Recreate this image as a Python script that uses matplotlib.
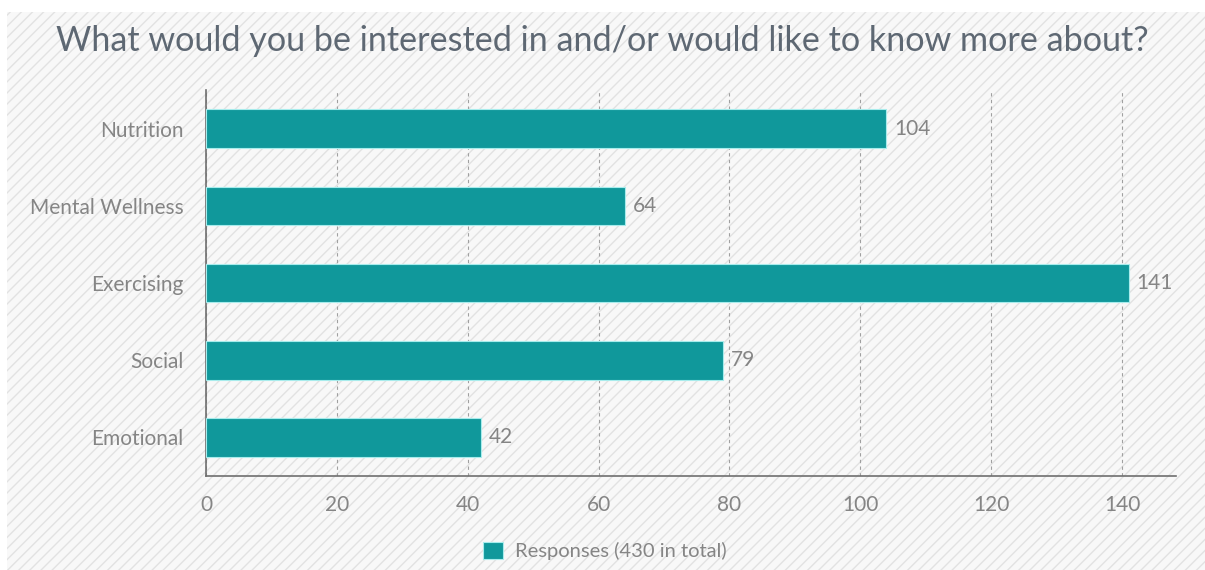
import matplotlib
matplotlib.use("Agg")
import matplotlib.pyplot as plt
from matplotlib.patches import Rectangle

# survey answers, top to bottom
topics = ["Nutrition", "Mental Wellness", "Exercising", "Social", "Emotional"]
responses = [104, 64, 141, 79, 42]
x_ticks = [0, 20, 40, 60, 80, 100, 120, 140]
legend_label = "Responses (430 in total)"
title = "What would you be interested in and/or would like to know more about?"

plt.rcParams["font.family"] = ["Lato", "DejaVu Sans"]
plt.rcParams["hatch.linewidth"] = 1.0

fig = plt.figure(figsize=(12.05, 5.7), dpi=100)
fig.patch.set_facecolor("white")

# faint striped backdrop
bg = Rectangle((7 / 1205, 0), 1, 1 - 12 / 570, transform=fig.transFigure,
               facecolor="#f8f8f8", edgecolor="#e2e2e2", hatch="///", linewidth=0,
               zorder=-10)
fig.patches.append(bg)

ax = fig.add_axes([206 / 1205, 1 - 476 / 570, (1176 - 206) / 1205, (476 - 90) / 570])
ax.set_facecolor("none")

ypos = list(range(len(topics)))
bars = ax.barh(ypos, responses, height=0.5, color="#10989b",
               edgecolor="#a8ecec", linewidth=0.8, zorder=3)
for y, v in zip(ypos, responses):
    ax.text(v + 1.2, y, str(v), va="center", ha="left", fontsize=15,
            color="#858585", zorder=4)

ax.set_ylim(len(topics) - 0.5, -0.5)
ax.set_xlim(0, 148.25)
ax.set_yticks(ypos)
ax.set_yticklabels(topics)
ax.set_xticks(x_ticks)

ax.tick_params(axis="both", length=0, labelsize=15, labelcolor="#858585")
ax.tick_params(axis="x", pad=14)
ax.tick_params(axis="y", pad=16)

for side in ["top", "right"]:
    ax.spines[side].set_visible(False)
for side in ["left", "bottom"]:
    ax.spines[side].set_color("#6f6f6f")
    ax.spines[side].set_linewidth(1.2)

ax.xaxis.grid(True, linestyle=(0, (3, 3)), color="#a0a0a0", linewidth=0.8, zorder=0)
ax.set_axisbelow(True)

fig.text(0.5, 1 - 41 / 570, title, ha="center", va="center", fontsize=24.6,
         color="#5e6873")

fig.legend([bars], [legend_label], loc="center", bbox_to_anchor=(0.502, 1 - 551 / 570),
           frameon=False, fontsize=14.5, labelcolor="#858585", handlelength=0.95,
           handleheight=0.95, handletextpad=0.6)

fig.savefig("out.png", dpi=100)
